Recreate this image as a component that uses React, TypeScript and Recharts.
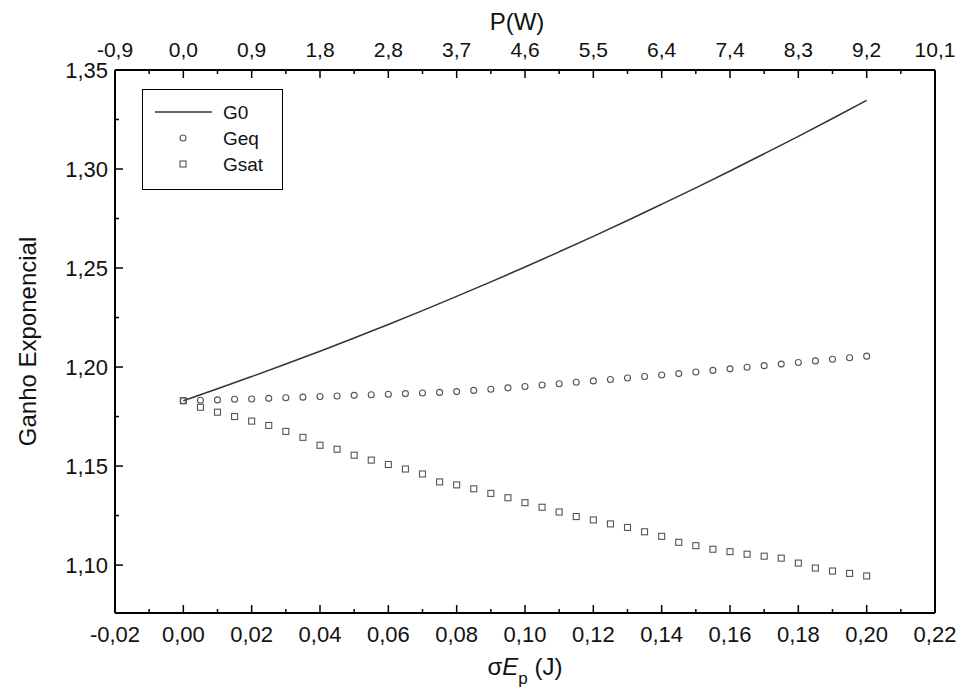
import React from "react";
import { ComposedChart, Line, Scatter, XAxis, YAxis, Legend } from "recharts";

// sigma*Ep (J), marker positions
const energy = [
  0, 0.005, 0.01, 0.015, 0.02, 0.025, 0.03, 0.035, 0.04, 0.045, 0.05, 0.055,
  0.06, 0.065, 0.07, 0.075, 0.08, 0.085, 0.09, 0.095, 0.1, 0.105, 0.11, 0.115,
  0.12, 0.125, 0.13, 0.135, 0.14, 0.145, 0.15, 0.155, 0.16, 0.165, 0.17, 0.175,
  0.18, 0.185, 0.19, 0.195, 0.2,
];

const geq = [
  1.183, 1.1832, 1.1834, 1.1837, 1.1839, 1.1842, 1.1845, 1.1848, 1.1851,
  1.1854, 1.1857, 1.186, 1.1863, 1.1866, 1.1869, 1.1872, 1.1876, 1.1882,
  1.1888, 1.1895, 1.1902, 1.1909, 1.1916, 1.1923, 1.193, 1.1937, 1.1945,
  1.1952, 1.196, 1.1967, 1.1975, 1.1983, 1.1991, 1.1999, 1.2007, 1.2015,
  1.2023, 1.2031, 1.2039, 1.2047, 1.2055,
];

const gsat = [
  1.183, 1.1797, 1.1772, 1.175, 1.1727, 1.1705, 1.1675, 1.1645, 1.1605,
  1.1585, 1.1555, 1.153, 1.1508, 1.1485, 1.146, 1.142, 1.1405, 1.1385, 1.1362,
  1.134, 1.1315, 1.1292, 1.1268, 1.1245, 1.1228, 1.1208, 1.119, 1.1168,
  1.1145, 1.1115, 1.1098, 1.108, 1.1068, 1.1055, 1.1045, 1.1035, 1.101,
  1.0985, 1.097, 1.0958, 1.0945,
];

// G0 curve, read every 0.01 J
const g0Energy = [
  0, 0.01, 0.02, 0.03, 0.04, 0.05, 0.06, 0.07, 0.08, 0.09, 0.1, 0.11, 0.12,
  0.13, 0.14, 0.15, 0.16, 0.17, 0.18, 0.19, 0.2,
];
const g0 = [
  1.183, 1.189, 1.1952, 1.2015, 1.208, 1.2147, 1.2215, 1.2285, 1.2357, 1.243,
  1.2505, 1.2582, 1.266, 1.274, 1.2822, 1.2905, 1.299, 1.3077, 1.3165, 1.3255,
  1.3347,
];

const energyMajor = [
  -0.02, 0, 0.02, 0.04, 0.06, 0.08, 0.1, 0.12, 0.14, 0.16, 0.18, 0.2, 0.22,
];
const energyTicks = [
  -0.02, -0.01, 0, 0.01, 0.02, 0.03, 0.04, 0.05, 0.06, 0.07, 0.08, 0.09, 0.1,
  0.11, 0.12, 0.13, 0.14, 0.15, 0.16, 0.17, 0.18, 0.19, 0.2, 0.21, 0.22,
];
const powerLabels = [
  "-0,9", "0,0", "0,9", "1,8", "2,8", "3,7", "4,6", "5,5", "6,4", "7,4", "8,3",
  "9,2", "10,1",
];
const gainMajor = [1.1, 1.15, 1.2, 1.25, 1.3, 1.35];
const gainTicks = [
  1.1, 1.125, 1.15, 1.175, 1.2, 1.225, 1.25, 1.275, 1.3, 1.325, 1.35,
];

const rows = energy.map((x, i) => {
  const k = g0Energy.findIndex((e) => Math.abs(e - x) < 1e-9);
  return { x, geq: geq[i], gsat: gsat[i], g0: k >= 0 ? g0[k] : null };
});

const FONT = "'Liberation Sans', Arial, sans-serif";
const majorIndex = (v: number, list: number[]) =>
  list.findIndex((m) => Math.abs(m - v) < 1e-9);
const comma = (v: number, d: number) => v.toFixed(d).replace(".", ",");

const BottomTick = (props: any) => {
  const { x, y, payload } = props;
  const idx = majorIndex(payload.value, energyMajor);
  return (
    <g>
      <line x1={x} x2={x} y1={y} y2={y - (idx >= 0 ? 8 : 4)} stroke="#000" strokeWidth={1.5} />
      {idx >= 0 && (
        <text x={x} y={y + 29} textAnchor="middle" fontSize={22} fontFamily={FONT} fill="#111">
          {comma(payload.value, 2)}
        </text>
      )}
    </g>
  );
};

const TopTick = (props: any) => {
  const { x, y, payload } = props;
  const idx = majorIndex(payload.value, energyMajor);
  return (
    <g>
      <line x1={x} x2={x} y1={y} y2={y + (idx >= 0 ? 8 : 4)} stroke="#000" strokeWidth={1.5} />
      {idx >= 0 && (
        <text x={x} y={y - 13} textAnchor="middle" fontSize={21} fontFamily={FONT} fill="#111">
          {powerLabels[idx]}
        </text>
      )}
    </g>
  );
};

const LeftTick = (props: any) => {
  const { x, y, payload } = props;
  const idx = majorIndex(payload.value, gainMajor);
  return (
    <g>
      <line x1={x} x2={x + (idx >= 0 ? 8 : 4)} y1={y} y2={y} stroke="#000" strokeWidth={1.5} />
      {idx >= 0 && (
        <text x={x - 7} y={y + 8} textAnchor="end" fontSize={22} fontFamily={FONT} fill="#111">
          {comma(payload.value, 2)}
        </text>
      )}
    </g>
  );
};

const Circle = (p: any) =>
  p.cy == null ? <g /> : <circle cx={p.cx} cy={p.cy} r={3} fill="none" stroke="#555" strokeWidth={1.1} />;
const Square = (p: any) =>
  p.cy == null ? <g /> : (
    <rect x={p.cx - 3} y={p.cy - 3} width={6} height={6} fill="none" stroke="#555" strokeWidth={1.1} />
  );

const LegendBox = () => (
  <div style={{ width: 141, height: 101, border: "1.5px solid #000", boxSizing: "border-box", background: "#fff" }}>
    <svg width={138} height={98}>
      <line x1={12} x2={69} y1={22} y2={22} stroke="#333" strokeWidth={1.5} />
      <text x={80} y={29} fontSize={19} fontFamily={FONT} fill="#111">G0</text>
      <circle cx={40} cy={48} r={3} fill="none" stroke="#555" strokeWidth={1.1} />
      <text x={80} y={55} fontSize={19} fontFamily={FONT} fill="#111">Geq</text>
      <rect x={37} y={71} width={6} height={6} fill="none" stroke="#555" strokeWidth={1.1} />
      <text x={80} y={81} fontSize={19} fontFamily={FONT} fill="#111">Gsat</text>
    </svg>
  </div>
);

export default function App() {
  return (
    <div style={{ position: "absolute", left: 0, top: 0, width: 965, height: 699, background: "#fff" }}>
      <ComposedChart
        width={965}
        height={699}
        data={rows}
        margin={{ top: 0, right: 29, bottom: 0, left: 0 }}
      >
        <XAxis
          xAxisId="bottom"
          dataKey="x"
          type="number"
          domain={[-0.02, 0.22]}
          ticks={energyTicks}
          interval={0}
          height={86}
          tickSize={0}
          tickMargin={0}
          tickLine={false}
          axisLine={{ stroke: "#000", strokeWidth: 2 }}
          tick={<BottomTick />}
          label={(lp: any) => {
            const vb = lp.viewBox;
            return (
              <text x={vb.x + vb.width / 2} y={vb.y + 62} textAnchor="middle" fontSize={24} fontFamily={FONT} fill="#111">
                <tspan>σ</tspan>
                <tspan fontStyle="italic">E</tspan>
                <tspan fontSize={17} dy={9}>p</tspan>
                <tspan dy={-9}> (J)</tspan>
              </text>
            );
          }}
        />
        <XAxis
          xAxisId="top"
          orientation="top"
          dataKey="x"
          type="number"
          domain={[-0.02, 0.22]}
          ticks={energyTicks}
          interval={0}
          height={70}
          tickSize={0}
          tickMargin={0}
          tickLine={false}
          axisLine={{ stroke: "#000", strokeWidth: 2 }}
          tick={<TopTick />}
          label={(lp: any) => {
            const vb = lp.viewBox;
            return (
              <text x={vb.x + vb.width / 2 - 8} y={vb.y + 30} textAnchor="middle" fontSize={24} fontFamily={FONT} fill="#111">
                P(W)
              </text>
            );
          }}
        />
        <YAxis
          yAxisId="left"
          type="number"
          domain={[1.0758, 1.35]}
          ticks={gainTicks}
          interval={0}
          width={115}
          tickSize={0}
          tickMargin={0}
          tickLine={false}
          axisLine={{ stroke: "#000", strokeWidth: 2 }}
          tick={<LeftTick />}
          label={(lp: any) => {
            const vb = lp.viewBox;
            const cx = vb.x + 30;
            const cy = vb.y + vb.height / 2;
            return (
              <text x={cx} y={cy} transform={`rotate(-90 ${cx} ${cy})`} textAnchor="middle" dominantBaseline="middle" fontSize={24} fontFamily={FONT} fill="#111">
                Ganho Exponencial
              </text>
            );
          }}
        />
        <YAxis
          yAxisId="right"
          orientation="right"
          type="number"
          domain={[1.0758, 1.35]}
          width={1}
          tick={false}
          tickLine={false}
          axisLine={{ stroke: "#000", strokeWidth: 2 }}
        />
        <Line
          xAxisId="bottom"
          yAxisId="left"
          type="monotone"
          dataKey="g0"
          connectNulls
          stroke="#333"
          strokeWidth={1.5}
          dot={false}
          activeDot={false}
          isAnimationActive={false}
        />
        <Scatter xAxisId="bottom" yAxisId="left" dataKey="geq" shape={<Circle />} isAnimationActive={false} />
        <Scatter xAxisId="bottom" yAxisId="left" dataKey="gsat" shape={<Square />} isAnimationActive={false} />
        <Legend
          layout="vertical"
          align="center"
          verticalAlign="middle"
          wrapperStyle={{ left: 142, top: 89, width: 141, height: 101 }}
          content={() => <LegendBox />}
        />
      </ComposedChart>
    </div>
  );
}
